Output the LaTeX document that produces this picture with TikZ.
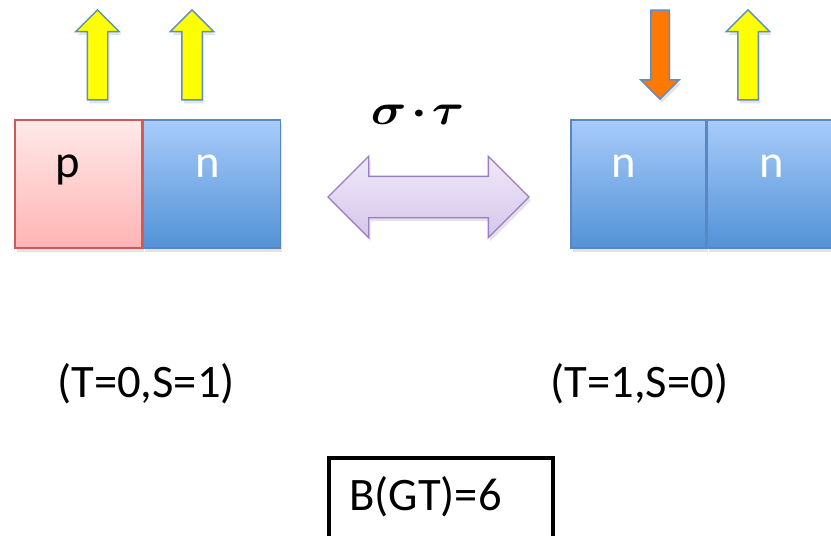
\documentclass[tikz,border=0pt]{standalone}
\usepackage{amsmath,amssymb}
\usepackage{fontspec}
\setmainfont{Carlito}
\usepackage{tikz}
\usetikzlibrary{positioning,shapes.arrows,shadows}

\definecolor{ptop}{RGB}{255,233,233}
\definecolor{pbot}{RGB}{255,180,180}
\definecolor{pline}{RGB}{205,90,85}
\definecolor{ntop}{RGB}{168,203,250}
\definecolor{nbot}{RGB}{82,146,214}
\definecolor{nline}{RGB}{90,135,195}
\definecolor{spinline}{RGB}{95,140,200}
\definecolor{spinup}{RGB}{255,255,0}
\definecolor{spindn}{RGB}{255,120,0}
\definecolor{lavtop}{RGB}{240,233,249}
\definecolor{lavbot}{RGB}{212,198,234}
\definecolor{lavline}{RGB}{155,125,195}

\tikzset{
  softshadow/.style={drop shadow={opacity=0.22, shadow xshift=0.04cm, shadow yshift=-0.07cm}},
  pbox/.style={draw=pline, line width=0.8pt, top color=ptop, bottom color=pbot,
    minimum width=2.54cm, minimum height=2.56cm, inner sep=0pt, softshadow},
  nbox/.style={draw=nline, line width=0.8pt, top color=ntop, bottom color=nbot,
    minimum width=2.70cm, minimum height=2.56cm, inner sep=0pt, softshadow},
  upspin/.style={single arrow, shape border rotate=90, draw=spinline, fill=spinup,
    line width=0.8pt, minimum height=1.8cm, inner ysep=0pt, inner xsep=0.19cm,
    single arrow head extend=0.23cm, softshadow},
  downspin/.style={single arrow, shape border rotate=270, draw=spinline, fill=spindn,
    line width=0.8pt, minimum height=1.78cm, inner ysep=0pt, inner xsep=0.17cm,
    single arrow head extend=0.2cm, softshadow},
  swaparrow/.style={double arrow, draw=lavline, line width=0.8pt, top color=lavtop,
    bottom color=lavbot, minimum height=4.02cm, inner xsep=0pt, inner ysep=0.4cm,
    double arrow head extend=0.4cm, softshadow},
  nucl/.style={anchor=base, inner sep=0pt, font=\fontsize{26.5}{30}\selectfont},
  state/.style={anchor=base, inner sep=0pt, font=\fontsize{26.5}{30}\selectfont}
}

\begin{document}
\begin{tikzpicture}
\useasboundingbox (0,0) rectangle (16.62,10.7);

% left pair: p n, spins up up
\node[pbox] (p) at (1.57,7.02) {};
\node[nbox, minimum width=2.74cm, right=0pt of p] (n) {};
\node[nucl] (ptext) at (1.36,7.16) {p};
\node[nucl, text=white] (ntext) at (4.15,7.16) {n};
\node[upspin] (pspin) at (1.95,9.5) {};
\node[upspin] (nspin) at (3.84,9.5) {};

% right pair: n n, spins down up
\node[nbox] (na) at (12.77,7.02) {};
\node[nbox, right=0pt of na] (nb) {};
\node[nucl, text=white] (natext) at (12.47,7.16) {n};
\node[nucl, text=white] (nbtext) at (15.44,7.16) {n};
\node[downspin] (naspin) at (13.2,9.7) {};
\node[upspin] (nbspin) at (14.96,9.5) {};

% operator
\node[swaparrow] (swap) at (8.57,6.76) {};
\node[anchor=base, inner sep=0pt] (optext) at (8.35,8.2)
  {\fontsize{33}{38}\selectfont\scalebox{1.13}[1]{$\boldsymbol{\sigma\mkern-2.5mu\cdot\mkern-2.5mu\tau}$}};

% quantum numbers
\node[state] (left) at (2.92,2.76) {(T=0,S=1)};
\node[state] (right) at (12.79,2.76) {(T=1,S=0)};

% strength
\node[draw, line width=2.3pt, minimum width=4.48cm, minimum height=2cm,
  inner sep=0pt, anchor=north] (gtbox) at (8.82,1.58) {};
\node[state] (gt) at (8.51,0.5) {B(GT)=6};
\end{tikzpicture}
\end{document}
